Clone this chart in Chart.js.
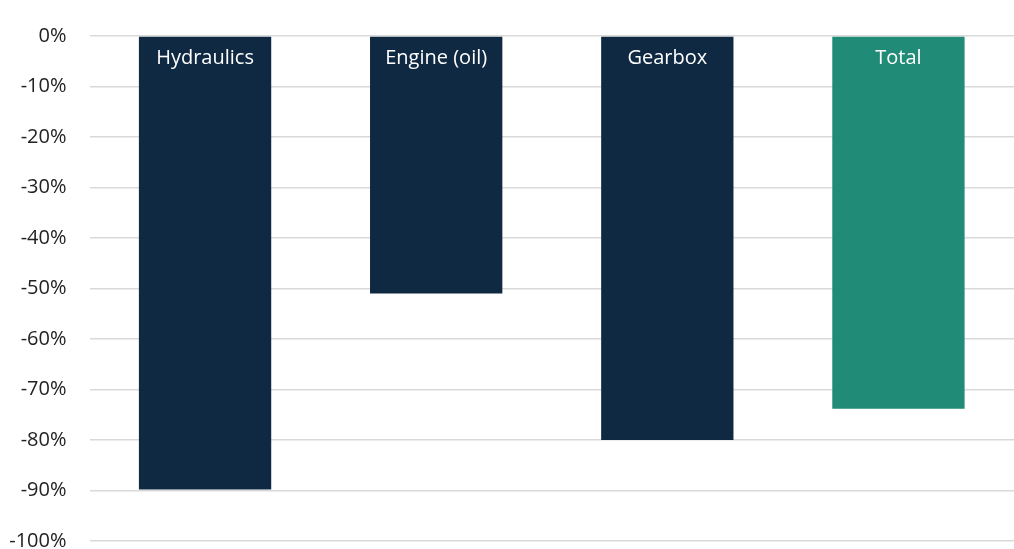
<!DOCTYPE html>
<html>
<head>
<meta charset="utf-8">
<script src="https://cdn.jsdelivr.net/npm/chart.js@4/dist/chart.umd.min.js"></script>
<style>
  html, body { margin: 0; padding: 0; background: #fff; overflow: hidden; }
  canvas { display: block; }
</style>
</head>
<body>
<canvas id="chart" width="1014" height="549" style="width:1014px;height:549px"></canvas>
<script>
// Data
const categories = ['Hydraulics', 'Engine (oil)', 'Gearbox', 'Total'];
const changeValues = [-89.8, -51, -80, -73.8];
const barColors = ['#0f2942', '#0f2942', '#0f2942', '#208b77'];
const yTicks = { min: -100, max: 0, step: 10 };

// Category name drawn inside the top of each bar
const insideLabels = {
    id: 'insideLabels',
    afterDatasetsDraw(chart) {
        const ctx = chart.ctx;
        const meta = chart.getDatasetMeta(0);
        ctx.save();
        ctx.fillStyle = '#ffffff';
        ctx.font = '20px "Open Sans", sans-serif';
        ctx.textAlign = 'center';
        ctx.textBaseline = 'middle';
        meta.data.forEach((bar, i) => {
            const top = Math.min(bar.y, bar.base);
            ctx.fillText(categories[i], bar.x, top + 22);
        });
        ctx.restore();
    }
};

const ctx = document.getElementById('chart').getContext('2d');
const chart = new Chart(ctx, {
    type: 'bar',
    data: {
        labels: categories,
        datasets: [{
            data: changeValues,
            backgroundColor: barColors,
            borderWidth: 0,
            categoryPercentage: 1,
            barPercentage: 0.5725
        }]
    },
    options: {
        responsive: false,
        animation: false,
        layout: { padding: { top: 36, bottom: 8, right: -4, left: 0 } },
        plugins: {
            legend: { display: false },
            tooltip: { enabled: false }
        },
        scales: {
            x: { display: false },
            y: {
                min: yTicks.min,
                max: yTicks.max,
                afterFit(scale) {
                    scale.width = 89.5;
                    scale.paddingTop = 0;
                    scale.paddingBottom = 0;
                },
                ticks: {
                    stepSize: yTicks.step,
                    padding: 23,
                    color: '#222',
                    font: { family: '"Open Sans", sans-serif', size: 20 },
                    callback: v => v + '%'
                },
                grid: { color: '#d9d9d9', lineWidth: 1.5, drawTicks: false },
                border: { display: false }
            }
        }
    },
    plugins: [insideLabels]
});
</script>
</body>
</html>
